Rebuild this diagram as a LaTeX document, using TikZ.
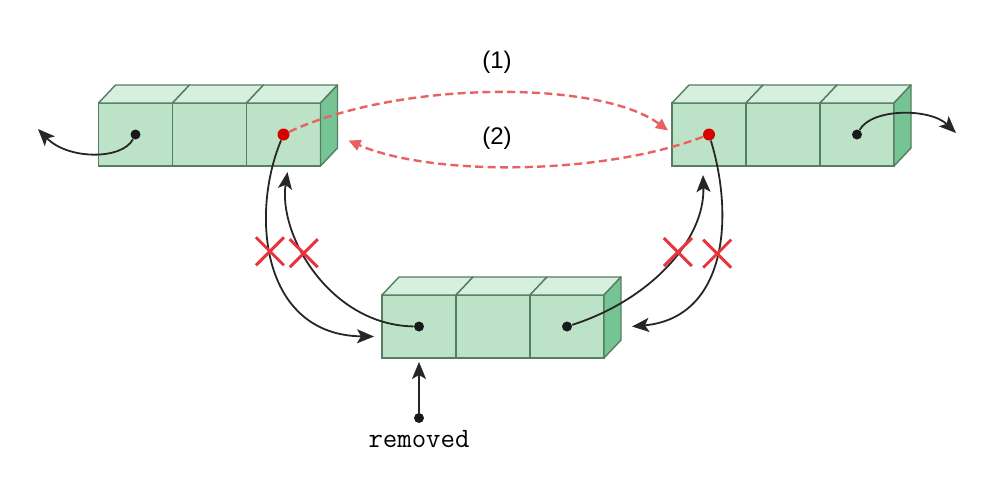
\documentclass[tikz,border=0pt]{standalone}
\definecolor{frontgreen}{RGB}{188,227,200}
\definecolor{topgreen}{RGB}{214,239,222}
\definecolor{sidegreen}{RGB}{118,196,148}
\definecolor{edgegreen}{RGB}{86,126,98}
\definecolor{linkred}{RGB}{232,98,98}
\definecolor{crossred}{RGB}{232,52,60}
\usepackage{fontspec}
\newfontfamily\labelfont{Liberation Sans}
\usepackage{tikz}
\usetikzlibrary{calc}
\usetikzlibrary{arrows,shapes,positioning}
\usetikzlibrary{arrows.meta}

\begin{document}
\begin{tikzpicture}[x=0.5pt, y=-0.5pt,
			cellStyle/.style={draw=edgegreen, line width=0.7pt, fill=frontgreen, minimum width=37pt, minimum height=31.5pt, inner sep=0pt, outer sep=0pt},
			topFace/.style={draw=edgegreen, line width=0.7pt, fill=topgreen, line join=round},
			sideFace/.style={draw=edgegreen, line width=0.7pt, fill=sidegreen, line join=round},
			linkStyle/.style={-{Stealth[length=8.5pt,width=7pt,inset=2pt]}, line width=0.9pt, black!85},
			dashStyle/.style={-{Triangle[length=6pt,width=5.5pt]}, line width=1.2pt, linkred, dash pattern=on 4pt off 2.2pt},
			dotStyle/.style={circle, fill=black!90, inner sep=0pt, minimum size=5pt},
			redDot/.style={circle, fill=red!85!black, inner sep=0pt, minimum size=6pt},
			crossStyle/.style={cross out, draw=crossred, line width=1.5pt, minimum size=14pt, inner sep=0pt, outer sep=0pt},]
			
			\useasboundingbox (0,0) rectangle (1003,479);
			
			\begin{scope}[every node/.style={cellStyle}]
				\node at (135.5,134.5) (l1) {};
				\node[right=0pt of l1] (l2) {};
				\node[right=0pt of l2] (l3) {};
				
				\node at (709,134.5) (r1) {};
				\node[right=0pt of r1] (r2) {};
				\node[right=0pt of r2] (r3) {};
				
				\node at (419,326.5) (m1) {};
				\node[right=0pt of m1] (m2) {};
				\node[right=0pt of m2] (m3) {};
			\end{scope}
			
			\foreach \b in {l,r,m}{
				\foreach \i in {1,2,3}
				\draw[topFace] (\b\i.north west) -- ++(17,-18) -- ++(74,0) -- ++(-17,18) -- cycle;
				\draw[sideFace] (\b3.north east) -- ++(17,-18) -- ++(0,63) -- ++(-17,18) -- cycle;
			}
			
			\node[dotStyle] (l1d) at (l1) {};
			\node[redDot] (l3d) at (l3) {};
			\node[redDot] (r1d) at (r1) {};
			\node[dotStyle] (r3d) at (r3) {};
			\node[dotStyle] (m1d) at (m1) {};
			\node[dotStyle] (m3d) at (m3) {};
			
			\coordinate (lout) at (38,129);
			\coordinate (rout) at (956,133);
			\draw[linkStyle] (l1d) .. controls (122,160) and (68,160) .. (lout);
			\draw[linkStyle] (r3d) .. controls (872,108) and (930,108) .. (rout);
			
			%% relinking the neighbours
			\draw[dashStyle] (l3d) .. controls (400,80) and (600,80) .. ([xshift=-2pt,yshift=2pt]r1.west);
			\draw[dashStyle] (r1d) .. controls (600,176) and (430,176) .. ([xshift=14pt,yshift=-3pt]l3.east);
			\node[font=\labelfont\fontsize{12}{14}\selectfont] (lbl1) at (497,62) {(1)};
			\node[font=\labelfont\fontsize{12}{14}\selectfont] (lbl2) at (497,138) {(2)};
			
			%% old links, crossed out
			\draw[linkStyle] (l3d) .. controls (250,215) and (262,335) .. ([xshift=-4pt,yshift=-5pt]m1.west) node[crossStyle, pos=0.44] (x1) {};
			\draw[linkStyle] (m1d) .. controls (330,325) and (278,235) .. ([xshift=2pt,yshift=-3pt]l3.south) node[crossStyle, pos=0.6] (x2) {};
			\draw[linkStyle] (r1d) .. controls (735,220) and (725,318) .. ([xshift=14pt]m3.east) node[crossStyle, pos=0.47] (x3) {};
			\draw[linkStyle] (m3d) .. controls (650,300) and (705,240) .. ([xshift=-3pt,yshift=-4.5pt]r1.south) node[crossStyle, pos=0.58] (x4) {};
			
			\node[dotStyle] (rmdot) at (419,418) {};
			\node[below=0pt of rmdot, font=\ttfamily\fontsize{14}{16}\selectfont] (rmlabel) {removed};
			\draw[linkStyle] (rmdot) -- ([yshift=-2pt]m1.south);
		\end{tikzpicture}
\end{document}
